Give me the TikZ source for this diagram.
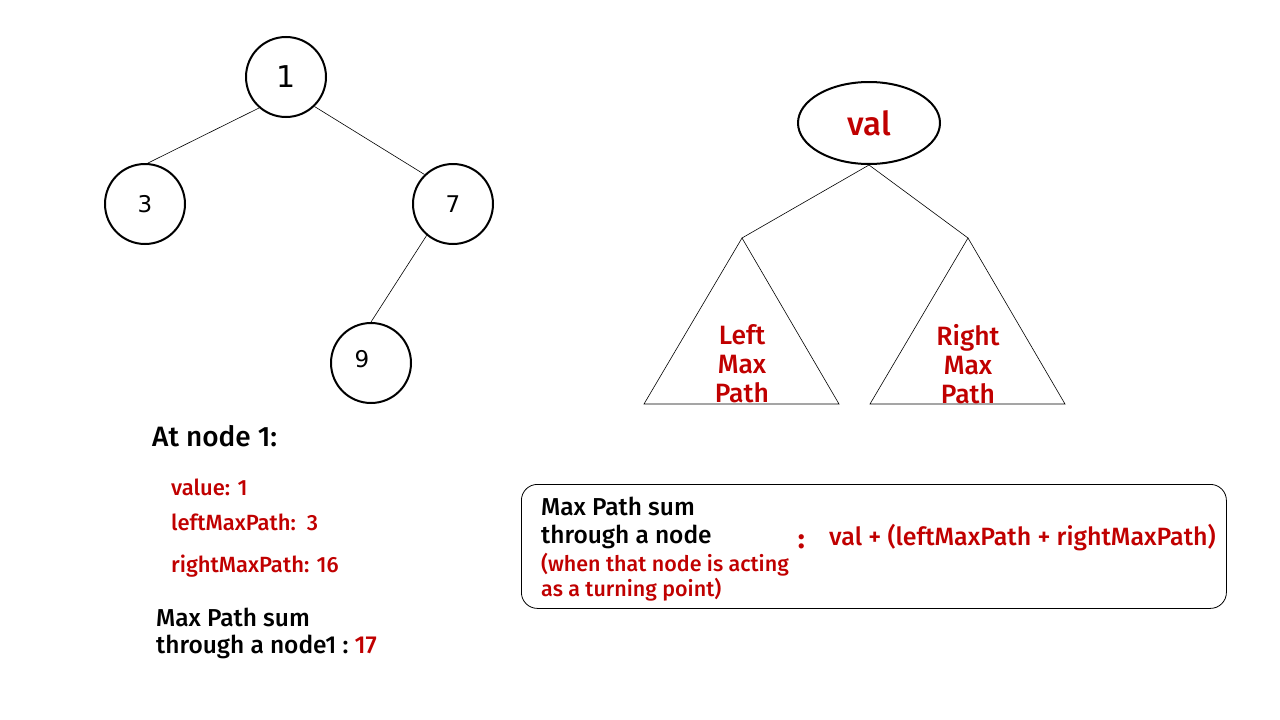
\documentclass[tikz,border=0pt]{standalone}
\usepackage{fontspec}
\usetikzlibrary{shapes.geometric}
\setmainfont{Fira Sans Medium}
\newfontfamily\digitfont{DejaVu Sans}
\definecolor{pathred}{RGB}{192,0,0}

\begin{document}
\begin{tikzpicture}[x=1pt,y=-1pt,
    treenode/.style={circle, draw, line width=2pt, minimum size=80pt, inner sep=0pt,
        font=\digitfont\fontsize{23}{26}\selectfont},
    redtext/.style={text=pathred},
    sidetext/.style={anchor=base west, inner sep=0pt}]
    \useasboundingbox (0,0) rectangle (1280,720);

    % Draw the example tree
    \node[treenode, font=\digitfont\fontsize{30}{34}\selectfont] (n1) at (286,77) {1};
    \node[treenode] (n3) at (145,204) {3};
    \node[treenode] (n7) at (453,204) {7};
    \node[treenode, label={[xshift=-9pt, yshift=4pt, font=\digitfont\fontsize{23}{26}\selectfont]center:9}] (n9) at (371,363) {};
    \draw[line width=0.6pt] (n1.229) -- (n3.86);
    \draw[line width=0.6pt] (n1.314) -- (n7.134);
    \draw[line width=0.6pt] (n7.230) -- (n9.90);

    % Draw the general node with its two subtrees
    \node[ellipse, draw, line width=2pt, minimum width=142pt, minimum height=82pt, redtext,
        font=\fontsize{33}{36}\selectfont] (val) at (869,123) {val};
    \coordinate (lroot) at (742,238);
    \coordinate (rroot) at (968,238);
    \draw[line width=0.6pt] (val.south) -- (lroot);
    \draw[line width=0.6pt] (val.south) -- (rroot);
    \draw[line width=0.6pt] (lroot) -- (644,404) -- (839,404) -- cycle;
    \draw[line width=0.6pt] (rroot) -- (870,404) -- (1065,404) -- cycle;
    \node[redtext, align=center, font=\fontsize{26.5}{29}\selectfont] (lpath) at (742,364) {Left\\Max\\Path};
    \node[redtext, align=center, font=\fontsize{26.5}{29}\selectfont] (rpath) at (968,364) {Right\\Max\\Path};

    % Values at node 1
    \node[sidetext, font=\fontsize{28}{32}\selectfont] (atnode) at (152,446) {At node 1:};
    \node[sidetext, redtext, font=\fontsize{22}{26}\selectfont] (value) at (171,495) {value: 1};
    \node[sidetext, redtext, font=\fontsize{22}{26}\selectfont] (leftmax) at (171,530) {leftMaxPath:\ \ 3};
    \node[sidetext, redtext, font=\fontsize{22}{26}\selectfont] (rightmax) at (171,572) {rightMaxPath: 16};
    \node[sidetext, font=\fontsize{24.5}{28}\selectfont] (sum1) at (156,626) {Max Path sum};
    \node[sidetext, font=\fontsize{24.5}{28}\selectfont] (sum2) at (156,653) {through a node1 :\ \textcolor{pathred}{17}};

    % Formula box
    \node[draw, line width=0.8pt, rounded corners=16pt, minimum width=705pt, minimum height=124pt,
        anchor=north west, inner sep=0pt] (formula) at (521,484) {};
    \node[sidetext, font=\fontsize{24.5}{28}\selectfont] (ftext1) at (541,515) {Max Path sum};
    \node[sidetext, font=\fontsize{24.5}{28}\selectfont] (ftext2) at (541,543) {through a node};
    \node[sidetext, redtext, font=\fontsize{21.5}{25}\selectfont] (ftext3) at (541,571) {(when that node is acting};
    \node[sidetext, redtext, font=\fontsize{21.5}{25}\selectfont] (ftext4) at (541,596) {as a turning point)};
    \node[sidetext, redtext, font=\bfseries\fontsize{27}{30}\selectfont] (colon) at (798,548) {:};
    \node[sidetext, redtext, font=\fontsize{25}{28}\selectfont] (ftext5) at (829,545) {val + (leftMaxPath + rightMaxPath)};
\end{tikzpicture}
\end{document}
